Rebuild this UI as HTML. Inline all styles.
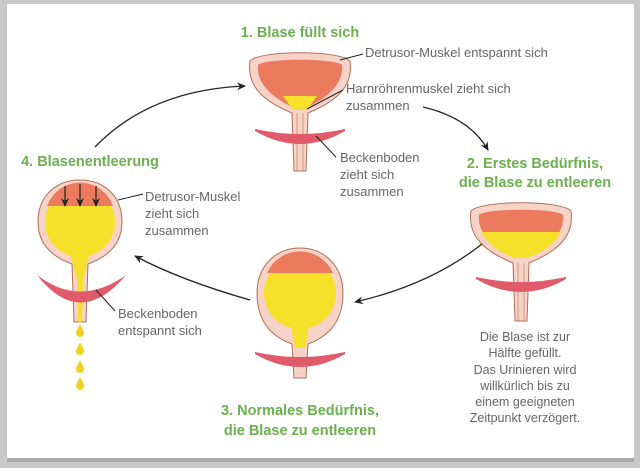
<!DOCTYPE html>
<html><head><meta charset="utf-8"><style>
body{margin:0;width:640px;height:468px;background:#c9c9c9;overflow:hidden}
svg{display:block}
text{font-family:"Liberation Sans",sans-serif}
.g{fill:#6ab04c;font-weight:bold;font-size:14.5px}
.t{fill:#666;font-size:13px}
.r{fill:#666;font-size:12.5px}
</style></head><body>
<svg width="640" height="468" viewBox="0 0 640 468">
<defs>
<marker id="ah" markerWidth="10" markerHeight="10" refX="8" refY="5" orient="auto" markerUnits="userSpaceOnUse"><path d="M0,1 L9,5 L0,9 L3,5 Z" fill="#222"/></marker>
<g id="cup">
<path d="M-50,8 C-40,-3 40,-3 50,8 C54,36 32,50 8,60 L6,118 L-6,118 L-8,60 C-32,50 -54,36 -50,8Z" fill="#f6d3c6" stroke="#b0705a" stroke-width="1"/>
<path d="M-42,12 C-35,5 35,5 42,12 C44,32 25,46 6,55 L-6,55 C-25,46 -44,32 -42,12Z" fill="#ec7a5e"/>
<line x1="-3" y1="60" x2="-3" y2="118" stroke="#c98a70" stroke-width="0.8"/>
<line x1="3" y1="60" x2="3" y2="118" stroke="#c98a70" stroke-width="0.8"/>
</g>
<path id="band" d="M-45,0 Q0,10 45,0 L45,2 Q0,28 -45,2 Z" fill="#e05a6a"/>
<path id="drop" d="M0,-6 C2,-2 4,1 4,3 A4,4 0 0 1 -4,3 C-4,1 -2,-2 0,-6Z" fill="#f0d020"/>
</defs>
<rect x="7" y="4" width="627" height="456" fill="#fff"/>
<rect x="7" y="458" width="627" height="4" fill="#a8a8a8"/>

<g transform="translate(300,53)">
<use href="#cup"/>
<path d="M-17,43 L17,43 C12,50 9,55 6,57 L-6,57 C-9,55 -12,50 -17,43Z" fill="#f5e02a"/>
<use href="#band" y="76"/>
</g>
<g transform="translate(521,203)">
<use href="#cup"/>
<path d="M-40,29 L40,29 C33,42 20,50 6,55 L-6,55 C-20,50 -33,42 -40,29Z" fill="#f5e02a"/>
<use href="#band" y="74"/>
</g>
<g transform="translate(300,248)">
<path d="M-8,96 C-30,88 -43,72 -43,45 C-43,18 -24,0 0,0 C24,0 43,18 43,45 C43,72 30,88 8,96 L6,130 L-6,130Z" fill="#f6d3c6" stroke="#b0705a"/>
<circle cx="0" cy="45" r="36" fill="#f5e02a"/>
<path d="M-33,25 A36,36 0 0 1 33,25 Z" fill="#ec7a5e"/>
<path d="M-9,78 L9,78 L5,100 L-5,100Z" fill="#f5e02a"/>
<use href="#band" y="104"/>
</g>
<g transform="translate(80,180)">
<path d="M-8,84 C-30,76 -42,62 -42,42 C-42,16 -24,0 0,0 C24,0 42,16 42,42 C42,62 30,76 8,84 L6,142 L-6,142Z" fill="#f6d3c6" stroke="#b0705a"/>
<circle cx="0" cy="42" r="35" fill="#f5e02a"/>
<path d="M-33,26 A35,35 0 0 1 33,26 Z" fill="#ec7a5e"/>
<path d="M-10,72 L10,72 L3,100 L2,142 L-2,142 L-3,100Z" fill="#f5e02a"/>
<path d="M-43,95 Q0,128 46,95 Q0,150 -43,95Z" fill="#e05a6a"/>
<g stroke="#222" stroke-width="1.2" marker-end="url(#ah)"><line x1="-15" y1="6" x2="-15" y2="26"/><line x1="0" y1="4" x2="0" y2="26"/><line x1="16" y1="6" x2="16" y2="26"/></g>
<use href="#drop" y="150"/><use href="#drop" y="168"/><use href="#drop" y="186"/><use href="#drop" y="203"/>
</g>

<g fill="none" stroke="#222" stroke-width="1.3" marker-end="url(#ah)">
<path d="M95,147 Q150,90 245,86"/>
<path d="M423,107 Q470,118 488,150"/>
<path d="M482,244 Q430,285 355,302"/>
<path d="M250,300 Q180,280 135,256"/>
</g>
<g stroke="#222" stroke-width="1" fill="none">
<line x1="340" y1="60" x2="363" y2="54"/>
<line x1="307" y1="109" x2="343" y2="90"/>
<line x1="316" y1="136" x2="336" y2="157"/>
<line x1="118" y1="200" x2="143" y2="194"/>
<line x1="96" y1="290" x2="115" y2="311"/>
</g>

<text class="g" x="300" y="37" text-anchor="middle">1. Blase füllt sich</text>
<text class="t" x="365" y="57">Detrusor-Muskel entspannt sich</text>
<text class="t" x="346" y="93">Harnröhrenmuskel zieht sich</text>
<text class="t" x="346" y="110">zusammen</text>
<text class="t" x="340" y="162">Beckenboden</text>
<text class="t" x="340" y="179">zieht sich</text>
<text class="t" x="340" y="196">zusammen</text>
<text class="g" x="535" y="168" text-anchor="middle">2. Erstes Bedürfnis,</text>
<text class="g" x="535" y="187" text-anchor="middle">die Blase zu entleeren</text>
<text class="g" x="90" y="166" text-anchor="middle">4. Blasenentleerung</text>
<text class="t" x="145" y="201">Detrusor-Muskel</text>
<text class="t" x="145" y="218">zieht sich</text>
<text class="t" x="145" y="235">zusammen</text>
<text class="t" x="118" y="318">Beckenboden</text>
<text class="t" x="118" y="335">entspannt sich</text>
<text class="r" x="525" y="341" text-anchor="middle">Die Blase ist zur</text>
<text class="r" x="525" y="357" text-anchor="middle">Hälfte gefüllt.</text>
<text class="r" x="525" y="374" text-anchor="middle">Das Urinieren wird</text>
<text class="r" x="525" y="390" text-anchor="middle">willkürlich bis zu</text>
<text class="r" x="525" y="406" text-anchor="middle">einem geeigneten</text>
<text class="r" x="525" y="422" text-anchor="middle">Zeitpunkt verzögert.</text>
<text class="g" x="300" y="415" text-anchor="middle">3. Normales Bedürfnis,</text>
<text class="g" x="300" y="435" text-anchor="middle">die Blase zu entleeren</text>
</svg>
</body></html>
